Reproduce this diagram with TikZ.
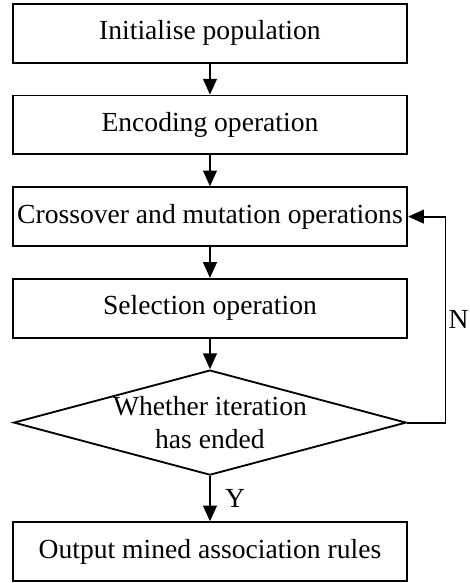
\documentclass[tikz,border=0pt]{standalone}
\usepackage{fontspec}
\setmainfont{Liberation Serif}
\usetikzlibrary{shapes.geometric,arrows.meta}

\begin{document}
\begin{tikzpicture}[line width=1.6pt,>={Triangle[length=4.8mm,width=4.2mm]},
  font=\fontsize{24}{28}\selectfont,
  stage/.style={draw,minimum width=12.06cm,minimum height=1.8cm,inner sep=0pt},
  test/.style={draw,diamond,aspect=3.74,minimum width=12cm,minimum height=3.21cm,
    inner sep=0pt,align=center}]
\matrix[row sep=9.45mm]
{
\node[stage](init){Initialise population};            \\
\node[stage](enc){Encoding operation};                \\
\node[stage](cross){Crossover and mutation operations}; \\
\node[stage](sel){Selection operation};               \\
\node[test](ended){Whether iteration\\has ended};      \\[4.5mm]
\node[stage](out){Output mined association rules};    \\
};
\draw[->] (init) -- (enc);
\draw[->] (enc) -- (cross);
\draw[->] (cross) -- (sel);
\draw[->] (sel) -- (ended);
\draw[->] (ended) --node[right=9pt]{Y} (out);
% loop back when not finished
\draw[->] (ended.east) -- ++(1.17cm,0) |-node[pos=0.25,right=2pt,inner sep=0pt]{N} (cross.east);
\pgfresetboundingbox
\useasboundingbox ([shift={(-0.36,0.09)}]init.north west) rectangle ([shift={(1.86,-0.03)}]out.south east);
\end{tikzpicture}
\end{document}
